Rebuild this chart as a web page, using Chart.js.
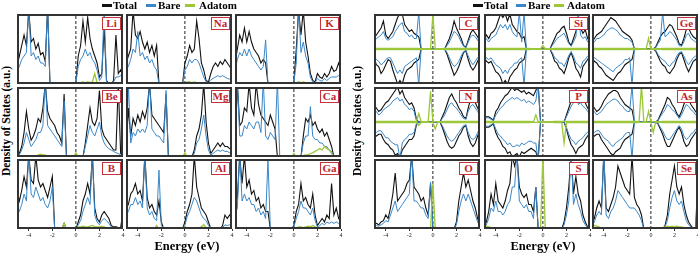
<!DOCTYPE html>
<html lang="en">
<head>
<meta charset="UTF-8">
<title>Density of States</title>
<script src="https://cdn.jsdelivr.net/npm/chart.js"></script>
<style>
    body { margin: 0; background: #fff; }
    #fig { position: relative; width: 698px; height: 253px; overflow: hidden; font-family: 'Liberation Serif', 'Times New Roman', serif; }
    canvas { position: absolute; }
    .frame { position: absolute; border: 2px solid #333; box-sizing: border-box; pointer-events: none; }
    .tag { position: absolute; width: 19px; height: 13px; box-sizing: border-box; border: 1.5px solid #c8323c; background: #fff;
           color: #c1272d; font-weight: bold; font-size: 11px; line-height: 10px; text-align: center; }
    .ylab { position: absolute; width: 170px; text-align: center; transform: rotate(-90deg); font-weight: bold; font-size: 11.5px; line-height: 14px; white-space: nowrap; }
    .xlab { position: absolute; width: 120px; text-align: center; font-weight: bold; font-size: 12.5px; line-height: 14px; }
    .leg { position: absolute; top: 0; font-weight: bold; font-size: 11px; line-height: 11px; white-space: nowrap; }
    .sw { position: absolute; top: 4px; height: 3px; }
</style>
</head>
<body>
<div id="fig"></div>
<script>
// energy grid (eV)
const energy = [-5.0,-4.8,-4.6,-4.4,-4.2, -4.0,-3.8,-3.6,-3.4,-3.2, -3.0,-2.8,-2.6,-2.4,-2.2, -2.0,-1.8,-1.6,-1.4,-1.2,
                -1.0,-0.8,-0.6,-0.4,-0.2, 0.0,0.2,0.4,0.6,0.8, 1.0,1.2,1.4,1.6,1.8, 2.0,2.2,2.4,2.6,2.8, 3.0,3.2,3.4,3.6,3.8, 4.0];
const xTicks = [-4, -2, 0, 2, 4];

// ---- left group (alkali / alkaline earth / group III) ----
const liTotal  = [2.6,4,5.5,7,5.5, 10.5,6,6.5,5,5.8, 4.2,4.5,3.2,11,0, 0,0,0,0,0, 0,0,0,0,0, 0.3,4,5.5,9,6, 9.5,6.5,5,4,3, 1,1.5,8,0.5,0, 0,0.5,7,1.5,2, 1.2];
const liBare   = [1.8,2.5,3.5,4,4.5, 11,4,4.5,3.5,4, 3,3,2.5,11,0, 0,0,0,0,0, 0,0,0,0,0, 0.2,2.5,3.5,4,5, 4,4.5,3.5,3,2, 0.5,1,11,0.3,0, 0,0.3,1,1,1.2, 0.8];
const liAdatom = [0,0,0,0,0, 0,0,0,0,0, 0,0,0,0,0, 0,0,0,0,0, 0,0,0,0,0, 0,0.2,0.2,0.3,0.2, 0.3,0.2,0.3,1.5,0.2, 0.1,0,0,0,0, 0,0,0.1,0.1,0.1, 0];

const naTotal  = [3,4,5,10.5,7, 6.5,7.5,6,5,6, 4.5,5.5,4,5.5,0, 0,0,0,0,0, 0,0,0,0,0, 3,4,5.5,4.5,5, 9,6.5,3,2,0.5, 0.3,1.5,2.5,3,2.5, 3.2,2.8,3.5,3,2.5, 2];
const naBare   = [2,2.5,3.5,5,4.5, 7.5,4,4.5,3.5,4, 3,3.5,2.5,2,0, 0,0,0,0,0, 0,0,0,0,0, 2,2.5,3.5,3,3.5, 3.5,3,2,1,0.3, 0.2,0.6,0.8,1,1.2, 1,1.2,1,0.8,0.7, 0.6];
const naAdatom = [0,0,0,0,0, 0,0,0,0,0, 0,0,0,0,0, 0,0,0,0,0, 0,0,0,0,0, 0.2,0.3,0.3,0.2,0.3, 0.2,0.2,0.1,0.1,0, 0,0,0,0,0, 0,0,0,0,0, 0];

const kTotal   = [3,5,7,6,8, 6,7.5,6,5,4.5, 4,3,3.5,3,0, 0,0,0,0,0, 0,0,0,0,0, 0.3,5,10.5,7,10.5, 6,4,1.5,0.5,0.3, 1.5,1,0.8,1.5,1, 1.5,2.5,1.8,2,3, 2];
const kBare    = [2,3.5,4.5,4,5, 4,5,4,3.5,3, 2.5,2,2.5,6.3,0, 0,0,0,0,0, 0,0,0,0,0, 0.2,3,11,4.5,6, 4,3,1,0.3,0.2, 0.8,0.5,0.4,0.8,0.5, 0.8,1,1,1,1.2, 1];
const kAdatom  = [0,0,0,0,0, 0,0,0,0,0, 0,0,0,0,0, 0,0,0,0,0, 0,0,0,0,0, 0.1,0.2,0.3,0.2,0.3, 0.2,0.1,0.1,0,0, 0,0,0,0,0, 0,0,0,0,0, 0];

const beTotal  = [0.3,0.5,1.5,3.5,6.5, 4,2.4,3,4,5.5, 5,7,10.5,6.5,5.5, 5,4.5,3.5,3,2, 9,0,0,0,0, 0,0,0,0,2, 4.5,7,5,4.5,5.5, 9.5,4,3,2.5,2, 1.5,1,1,10.5,0.5, 0.3];
const beBare   = [0.2,0.3,1,2,3.5, 2.5,1.5,2,2.5,3.5, 3.5,4.5,11,4.5,4, 3.5,3,2.5,2,1.5, 8,0,0,0,0, 0,0,0,0,1.5, 3,4.5,3.5,3,4, 5,3,2,1.5,1.2, 1,0.8,0.6,0.5,0.3, 0.2];
const beAdatom = [0,0,0,0,0, 0,0,0,0,0.3, 0.4,0.3,0.3,0,0, 0,0,0,0,0, 0,0,0,0,0, 0.6,0,0,0,0.1, 0.2,0.2,0.1,0.1,0.1, 0.1,0,0,0,0, 0,0,0,0,0, 0];

const mgTotal  = [0.5,7,3,5.5,4.5, 6,5,6.5,5.5,7, 10.5,6,5.5,5,4.5, 4,3.5,9,0,0, 0,0,0,0,0, 0.3,0,0,0,1, 3,4,6,10.5,5, 2,0.5,1,1.5,2, 1.5,2,1.5,1.5,1.2, 1];
const mgBare   = [0.3,10.5,2,3.5,3, 4,3.5,4,3.5,4.5, 11,4,3.5,3,3, 2.5,2,9.5,0,0, 0,0,0,0,0, 0.2,0,0,0,0.5, 2,2.5,4,6,3, 1,0.3,0.5,0.8,1, 0.8,1,0.8,0.8,0.6, 0.5];
const mgAdatom = [0,0,0,0,0, 0,0,0,0,0, 0,0,0,0,0, 0,0,0,0,0, 0,0,0,0,0, 0.6,0,0,0,0, 0.1,0.1,0.1,0.1,0.1, 0,0,0,0,0, 0,0,0,0,0, 0];

const caTotal  = [0.5,10.5,4.5,5,7, 6.5,10.5,7,6,10.5, 7.5,6,5.5,5,4.5, 6,5,4,0,0, 0,0,0,0,0, 0,0,0,0,3, 5.5,5,6,4.5,5, 4,3.5,4,3,3.5, 2.5,1.5,0,0,0, 0];
const caBare   = [0.3,11,3,3,4.5, 4,5,4.5,4,5, 5,3.5,11,3,2.5, 3.5,3,2.5,11,0, 0,0,0,0,0, 0,0,0,0,2, 3,3,7.2,3,2.5, 2.5,2,2,1.5,1.5, 1,0.8,0,0,0, 0];
const caAdatom = [0,0,0,0,0, 0,0,0,0,0, 0,0,0,0,0, 0,0,0,0,0, 0,0,0,0,0, 0.5,0,0,0,0.2, 0.3,0.3,0.5,0.6,0.8, 1,1.2,1,1.5,1.2, 1,0.5,0,0,0, 0];

const bTotal   = [5.5,4,5.5,7.5,6, 10.5,7,6.5,10.5,7, 6,6.5,5.5,4.5,6, 7.5,0,0,0,0, 0.8,0,0,0,0, 0,1,2,4,5, 6.5,5,10.5,3,1.5, 1,2,2.5,2,1.5, 0.5,0.3,0.3,0.2,0.2, 2.5];
const bBare    = [3.5,2.5,3.5,5,4, 11,5,4.5,6,5, 4,4.5,3.5,3,4, 6,0,0,0,0, 0.3,0,0,0,0, 0,0.6,1.2,2.5,3.5, 4.5,3.5,11,2,1, 0.6,1.2,1.5,1.2,0.8, 0.3,0.2,0.2,0.1,0.1, 0.3];
const bAdatom  = [0,0,0,0,0, 0,0,0,0,0, 0,0,0,0,0, 0,0,0,0,0, 0.8,0,0,0,0, 0,0.3,0.3,0.4,0.3, 0.3,0.4,0.5,0.3,0.3, 0.3,0.4,0.3,0.2,0.1, 0,0,0,0,0, 0];

const alTotal  = [3,3.5,5,5.5,6.5, 5,5.5,4,10.5,4.5, 3,3.5,2.5,2,4, 1,0,0,0,0, 0,0,0,0,0, 1,2.5,3.5,5,10.5, 6,4.5,3,2.5,2, 1,0,0,0,0, 0,0.5,2,1.5,2, 1.5];
const alBare   = [2,2.5,3.5,3.5,4.5, 3.5,4,3,11,3, 2,2.5,1.5,1.2,8.4, 0.5,0,0,0,0, 0,0,0,0,0, 0.5,1.8,2.5,3.5,4.5, 4,3,2,1.5,1.2, 0.5,0,0,0,0, 0,0.2,0.6,0.5,0.6, 0.5];
const alAdatom = [0,0,0,0,0, 0,0,0,0,0, 0,0,0,0.5,0, 0,0,0,0,0, 0,0,0,0,0, 0.3,0.1,0.1,0.2,0.2, 0.2,0.2,0.3,0.6,0.2, 0,0,0,0,0, 0,0,0,0,0, 0];

const gaTotal  = [3,4.5,10.5,6.5,10.5, 6,7,5,5.5,4, 4.5,3,3.5,2.5,2.5, 0,0,0,0,0, 0,0,0,0,0, 0.5,2.5,3.5,6.5,4, 4.5,3.5,3,5,2, 0.5,1,1.5,1,2, 1.5,6.5,2,3,1.5, 2];
const gaBare   = [2,3,11,4,5, 4,4.5,3.5,3.5,2.5, 3,2,2.5,1.5,10, 0,0,0,0,0, 0,0,0,0,0, 0.3,1.5,2.5,4,3, 3,2.5,2,3,1.2, 0.3,0.5,0.8,0.6,1, 0.8,1,0.8,1,0.8, 0.8];
const gaAdatom = [0,0,0,0,0, 0,0,0,0,0, 0,0,0,0,0, 0,0,0,0,0, 0,0,0,0,0, 0.2,0.2,0.3,0.3,0.2, 0.3,0.4,0.3,0.5,0.3, 0.2,0,0,0,0, 0,0,0,0,0, 0];

// ---- right group (group IV / V spin resolved, group VI) ----
const cTotalUp   = [3,4,5,6,8, 4,3,4,5,7, 9,10,10,7,6, 5,5.5,4.5,4,3.5, 0,0,0,0,0, 0,0,0,0,0, 0,1.5,3,5,8, 6,4.5,3,1,0.5, 2.5,4.5,5.5,4.5,3.5, 2];
const cTotalDn   = [-2.5,-4.5,-5,-7,-6, -4.5,-3,-3.5,-6,-8, -10,-9,-10,-7.5,-6, -5.5,-5,-4,-3.5,-3, 0,0,0,0,0, 0,0,0,0,0, 0,-1.5,-3.5,-5.5,-7.5, -6.5,-5,-3,-1,-0.5, -3,-5,-6,-5,-3.5, -2];
const cBareUp    = [2,3,3.5,4,5, 3,2.5,3,3.5,5, 6,7,7.5,5,4.5, 3.5,4,3,3,10.5, 0,0,0,0,0, 0,0,0,0,0, 0,1,2,3.5,5, 4.5,3.5,2,0.8,0.4, 2,3.5,4,3.5,2.5, 1.5];
const cBareDn    = [-2,-3,-3.5,-4.5,-4, -3,-2.5,-2.5,-4,-5.5, -7,-6,-7,-5,-4.5, -4,-3.5,-3,-2.5,-10.5, 0,0,0,0,0, 0,0,0,0,0, 0,-1,-2.5,-4,-5, -4.5,-3.5,-2,-0.8,-0.4, -2,-3.5,-4.5,-3.5,-2.5, -1.5];
const cAdatomUp  = [0.2,0.2,0.2,0.2,0.2, 0.2,0.2,0.2,0.2,0.2, 0.2,0.2,0.2,0.2,0.2, 0.2,0.2,0.2,0.2,0.2, 0.1,0.1,0.1,0.1,0.1, 10,0.1,0.1,0.1,0.1, 0.2,0.2,0.2,0.2,0.2, 0.2,0.2,0.2,0.2,0.2, 0.2,0.2,0.2,0.2,0.2, 0.2];
const cAdatomDn  = [-0.2,-0.2,-0.2,-0.2,-0.2, -0.2,-0.2,-0.2,-0.2,-0.2, -0.2,-0.2,-0.2,-0.2,-0.2, -0.2,-0.2,-0.2,-0.2,-0.2, -0.1,-0.1,-0.1,-0.1,-0.1, -0.1,-0.1,-0.1,-0.1,-0.1, -0.2,-0.2,-0.2,-0.2,-0.2, -0.2,-0.2,-0.2,-0.2,-0.2, -0.2,-0.2,-0.2,-0.2,-0.2, -0.2];

const siTotalUp  = [2.5,4,3,4.5,5, 6,8,10,9,10, 8,10,7,6,5, 4.5,3,3.5,0,0, 0,0,0,0,0, 0,0,0,0,1.5, 3,4.5,5,6,6.5, 4.5,2,1,3,5, 7,6,4.5,5.5,3, 2];
const siTotalDn  = [-2,-3.5,-4,-3.5,-5, -6.5,-7,-8,-10,-9, -10,-8,-7,-6,-5.5, -4,-3.5,-3,0,0, 0,0,0,0,0, 0,0,0,0,-1.5, -3.5,-4,-5.5,-6,-7, -5,-2.5,-1,-3,-5.5, -6.5,-8,-5,-4,-3, -2];
const siBareUp   = [1.8,3,2,3,3.5, 4,5.5,7,6,7, 5.5,7,5,4,3.5, 10.5,2,10.5,0,0, 0,0,0,0,0, 0,0,0,0,1, 2,3,3.5,4,4.5, 3,1.5,0.8,2,3.5, 10.5,4,3,3.5,2, 1.5];
const siBareDn   = [-1.5,-2.5,-3,-2.5,-3.5, -4.5,-5,-5.5,-7,-6, -7,-5.5,-5,-4,-4, -3,-2.5,-10.5,0,0, 0,0,0,0,0, 0,0,0,0,-1, -2.5,-3,-4,-4,-5, -3.5,-1.8,-0.8,-2,-4, -4.5,-5.5,-3.5,-3,-2, -1.5];
const siAdatomUp = [0.2,0.2,0.2,0.2,0.2, 0.2,0.2,0.2,0.2,0.2, 0.2,0.2,0.2,0.2,0.2, 0.2,0.2,0.2,0.2,0.2, 0.1,0.1,0.1,0.1,0.1, 1,0.1,0.1,0.1,0.1, 0.2,0.2,0.2,0.2,0.2, 0.2,0.2,0.2,0.2,0.2, 0.2,0.2,0.2,0.2,0.2, 0.2];
const siAdatomDn = [-0.2,-0.2,-0.2,-0.2,-0.2, -0.2,-0.2,-0.2,-0.2,-0.2, -0.2,-0.2,-0.2,-0.2,-0.2, -0.2,-0.2,-0.2,-0.2,-0.2, -0.1,-0.1,-0.1,-0.1,-0.1, -0.1,-0.1,-0.1,-0.1,-0.1, -0.2,-0.2,-0.2,-0.2,-0.2, -0.2,-0.2,-0.2,-0.2,-0.2, -0.2,-0.2,-0.2,-0.2,-0.2, -0.2];

const geTotalUp  = [2,3,4,4.5,5, 6,7,8,9,8.5, 8,7,6,5,4.5, 4,3.5,2.5,0,0, 0,0,0,0,0, 0,0,0.5,2,3.5, 4.5,5,6,7,6.5, 5,3.5,1.5,1,3, 5.5,6,4.5,3.5,3, 2];
const geTotalDn  = [-2.5,-3.5,-4,-5,-5.5, -6.5,-7.5,-8,-8.5,-9, -8,-7,-6.5,-5.5,-4.5, -4,-3.5,-3,0,0, 0,0,0,0,0, 0,0,-0.5,-2,-3.5, -4.5,-5,-6.5,-7,-6, -5,-3,-1.5,-1,-3, -5,-6.5,-5,-3.5,-3, -2];
const geBareUp   = [1.5,2,3,3,3.5, 4,5,5.5,6,6, 5.5,5,4,3.5,3, 3,2.5,2,0,0, 0,0,0,0,0, 0,0,0.3,1.5,2.5, 10.5,3.5,4,5,4.5, 3.5,2.5,1,0.8,2, 4,4.5,3,2.5,2, 1.5];
const geBareDn   = [-1.8,-2.5,-3,-3.5,-4, -4.5,-5,-5.5,-6,-6.5, -5.5,-5,-4.5,-4,-3, -3,-2.5,-10.5,0,0, 0,0,0,0,0, 0,0,-0.3,-1.5,-2.5, -3,-3.5,-4.5,-5,-4, -3.5,-2,-1,-0.8,-2, -3.5,-4.5,-3.5,-2.5,-2, -1.5];
const geAdatomUp = [0.2,0.2,0.2,0.2,0.2, 0.2,0.2,0.2,0.2,0.2, 0.2,0.2,0.2,0.2,0.2, 0.2,0.2,0.2,0.2,0.2, 0.1,0.1,0.1,0.1,3, 0.1,0.1,0.1,0.1,0.1, 0.2,0.2,0.2,0.2,0.2, 0.2,0.2,0.2,0.2,0.2, 0.2,0.2,0.2,0.2,0.2, 0.2];
const geAdatomDn = [-0.2,-0.2,-0.2,-0.2,-0.2, -0.2,-0.2,-0.2,-0.2,-0.2, -0.2,-0.2,-0.2,-0.2,-0.2, -0.2,-0.2,-0.2,-0.2,-0.2, -0.1,-0.1,-0.1,-0.1,-0.1, -0.1,-0.1,-0.1,-0.1,-0.1, -0.2,-0.2,-0.2,-0.2,-0.2, -0.2,-0.2,-0.2,-0.2,-0.2, -0.2,-0.2,-0.2,-0.2,-0.2, -0.2];

const nTotalUp   = [5,4,3,3.5,4.5, 5.5,6,7,8,9, 10,8,9,7,6, 5,5.5,4,0.8,0, 0,0,0,0,0, 0,0,0,0,1.5, 3,5,7,8,6.5, 5.5,4,3,1.5,1, 4,6.5,7,5.5,4, 2.5];
const nTotalDn   = [-4.5,-4,-3.5,-3.5,-5, -6,-6.5,-7.5,-8,-9.5, -9,-10,-8,-7,-6, -5,-5,-4,-0.8,0, 0,0,0,0,0, 0,0,0,0,-1.5, -3.5,-5.5,-7,-7.5,-7, -5.5,-4,-3,-1.5,-1, -4,-6,-7,-6,-4, -2.5];
const nBareUp    = [3.5,3,2,2.5,3.5, 4,4.5,5,6,6.5, 7,6,6.5,5,4.5, 3.5,4,3,0.5,0, 0,0,0,0,0, 0,0,0,0,1, 2,3.5,5,5.5,4.5, 4,3,2,1,0.8, 3,4.5,5,4,3, 1.8];
const nBareDn    = [-3,-3,-2.5,-2.5,-3.5, -4.5,-4.5,-5.5,-6,-6.5, -6.5,-10.5,-6,-5,-4.5, -3.5,-3.5,-3,-0.5,0, 0,0,0,0,0, 0,0,0,0,-1, -2.5,-4,-5,-5.5,-5, -4,-3,-2,-1,-0.8, -3,-4.5,-5,-4.5,-3, -1.8];
const nAdatomUp  = [0.2,0.2,0.2,0.2,0.2, 0.2,0.2,0.2,0.2,0.2, 0.2,0.2,0.2,0.2,0.2, 0.2,0.2,0.2,0.2,2.4, 0.1,0.1,0.1,0.1,8.8, 0.1,0.1,0.1,0.1,0.1, 0.2,0.2,0.2,0.2,0.2, 0.2,0.2,0.2,0.2,0.2, 0.2,0.2,0.2,0.2,0.2, 0.2];
const nAdatomDn  = [-0.2,-0.2,-0.2,-0.2,-0.2, -0.2,-0.2,-0.2,-0.2,-0.2, -0.2,-0.2,-0.2,-0.2,-0.2, -0.2,-0.2,-0.2,-0.2,-1, -0.1,-0.1,-0.1,-0.1,-0.1, -0.1,-2,-0.1,-0.1,-0.1, -0.2,-0.2,-0.2,-0.2,-0.2, -0.2,-0.2,-0.2,-0.2,-0.2, -0.2,-0.2,-0.2,-0.2,-0.2, -0.2];

const pTotalUp   = [1,1.5,1.5,1,0.5, 3,4,5.5,6.5,7.5, 8,9,10,9,9.5, 9,8.5,9,8,8.5, 8,7.5,9,10.5,0, 0,0,0,0,0, 0,0,0,0,0, 2,4,6,8,8.5, 7,8,6,5.5,4, 3];
const pTotalDn   = [-1,-1.5,-1.5,-1,-0.5, -3,-4.5,-5.5,-7,-7.5, -9,-8.5,-10,-9.5,-9, -10,-8.5,-9,-8.5,-8, -7.5,-8,-8.5,-10.5,0, 0,0,0,0,0, 0,0,0,0,0, -2,-4.5,-6.5,-7.5,-9, -7.5,-7,-6.5,-5,-4, -3];
const pBareUp    = [0.8,1.2,1.2,0.8,0.4, 2,3,4,4.5,5.5, 6,6.5,7,6.5,7, 6.5,6,6.5,5.5,6, 5.5,5,6,11,0, 0,0,0,0,0, 0,0,0,0,0, 1.5,3,4.5,5.5,10.5, 5,5.5,4.5,4,3, 2];
const pBareDn    = [-0.8,-1.2,-1.2,-0.8,-0.4, -2,-3.5,-4,-5,-5.5, -6.5,-6,-7,-7,-6.5, -7,-6,-6.5,-6,-5.5, -5.5,-6,-6,-11,0, 0,0,0,0,0, 0,0,0,0,0, -1.5,-3.5,-5,-5.5,-6.5, -5.5,-5,-4.5,-3.5,-3, -2];
const pAdatomUp  = [0.2,0.2,0.2,0.2,0.2, 0.2,0.2,0.2,0.2,0.2, 0.2,0.2,0.2,0.2,0.2, 0.2,0.2,0.2,0.2,0.2, 0.1,0.1,2,0.1,0.1, 0.1,0.1,0.1,0.1,0.1, 0.2,0.2,0.2,0.2,0.2, 0.2,0.2,0.2,0.2,0.2, 0.2,0.2,0.2,0.2,0.2, 0.2];
const pAdatomDn  = [-0.2,-0.2,-0.2,-0.2,-0.2, -0.2,-0.2,-0.2,-0.2,-0.2, -0.2,-0.2,-0.2,-0.2,-0.2, -0.2,-0.2,-0.2,-0.2,-0.2, -0.1,-0.1,-0.1,-0.1,-0.1, -0.1,-0.1,-0.1,-0.1,-0.1, -0.2,-0.2,-0.2,-0.2,-6, -0.2,-0.2,-0.2,-0.2,-0.2, -0.2,-0.2,-0.2,-0.2,-0.2, -0.2];

const asTotalUp  = [5,4,3,3.5,4.5, 6,7,8,8.5,9, 9,8.5,7,6,5, 4.5,4,3.5,0,0, 0,0,0,0,0, 0,0,0,0.5,2, 3.5,5,7,6.5,5, 4,2.5,1.5,3,5, 7,6.5,5,4,3, 2];
const asTotalDn  = [-4.5,-4,-3.5,-3.5,-5, -6,-7,-8,-9,-9.5, -8.5,-8,-7.5,-6,-5, -4.5,-4,-3.5,0,0, 0,0,0,0,0, 0,0,0,-0.5,-2, -3.5,-5.5,-7,-7,-5.5, -4,-2.5,-1.5,-3,-5.5, -7,-6.5,-5,-4,-3, -2];
const asBareUp   = [3.5,3,2,2.5,3, 4,5,5.5,6,6.5, 6.5,6,5,4.5,3.5, 3,3,10.5,0,0, 0,0,0,0,0, 0,0,0,0.3,1.5, 2.5,3.5,5,4.5,3.5, 3,2,1,2,3.5, 5,4.5,3.5,3,2, 1.5];
const asBareDn   = [-3,-3,-2.5,-2.5,-3.5, -4.5,-5,-5.5,-6.5,-7, -6,-5.5,-5,-4.5,-3.5, -3,-3,-10.5,0,0, 0,0,0,0,0, 0,0,0,-0.3,-1.5, -2.5,-4,-5,-5,-4, -3,-2,-1,-2,-4, -5,-4.5,-3.5,-3,-2, -1.5];
const asAdatomUp = [0.2,0.2,0.2,0.2,0.2, 0.2,0.2,0.2,0.2,0.2, 0.2,0.2,0.2,0.2,0.2, 0.2,0.2,0.2,0.2,0.2, 0.1,10.5,0.1,0.1,3, 0.1,0.1,0.1,0.1,0.1, 0.2,0.2,0.2,0.2,0.2, 0.2,0.2,0.2,0.2,0.2, 0.2,0.2,0.2,0.2,0.2, 0.2];
const asAdatomDn = [-0.2,-0.2,-0.2,-0.2,-0.2, -0.2,-0.2,-0.2,-0.2,-0.2, -0.2,-0.2,-0.2,-0.2,-0.2, -0.2,-0.2,-0.2,-0.2,-0.2, -0.1,-0.1,-0.1,-0.1,-0.1, -0.1,-3,-0.1,-0.1,-0.1, -0.2,-0.2,-0.2,-0.2,-0.2, -0.2,-0.2,-0.2,-0.2,-0.2, -0.2,-0.2,-0.2,-0.2,-0.2, -0.2];

const oTotal   = [0.8,0.8,0.6,1,1.2, 2,1.5,3,5,8, 4,4.5,5,5.5,6.5, 7,10.5,6,5.5,5, 4,4.5,3,2,6.5, 0,0,0,0,0, 0,0,0,0,0, 1,4,6,8,6, 7,5.5,4,3,1.5, 0.5];
const oBare    = [0.5,0.5,0.4,0.6,0.8, 1.2,1,2,3,4, 2.5,3,3.5,4,4.5, 5,11,4,4,3.5, 3,3,2,1.5,6.7, 0,0,0,0,0, 0,0,0,0,0, 0.6,2.5,4,5,4, 5,4,3,2,1, 0.3];
const oAdatom  = [0.2,0.2,0.2,0.2,0.2, 0.1,0,0,0,0, 0,0,0,0,0, 0,0,0,0,0, 0,0,0,0,0, 6.5,0,0,0,0, 0,0,0,0,0, 0,0,0,0,0, 0,0,0,0,0, 0];

const sTotal   = [0.5,1,2.5,5,3.5, 6.5,4,3.5,3,4, 5.5,6.5,10.5,9,10.5, 6,5,4.5,5,3.5, 3.5,2.5,6,0,0, 0,0,0,0,0, 0,0,0,0,1, 3,6,10.5,5,7.5, 5,4,2,1,0.3, 0];
const sBare    = [0.3,0.6,1.5,3,2.5, 4,2.5,2.5,2,2.5, 3.5,4,6,6,11, 4,3.5,3,3.5,2.5, 2.5,1.5,6,0,0, 0,0,0,0,0, 0,0,0,0,0.6, 2,4,11,3.5,5, 3.5,2.5,1.2,0.6,0.2, 0];
const sAdatom  = [0.5,0.4,0.3,0.2,0.1, 0,0,0,0,0, 0,0,0,0,0, 0,0,0,0,0, 0,0,0,0,0, 10.5,0,0,0,0, 0,0,0,0,0, 0,0,0,0,0, 0,0,0.1,0.2,0.2, 0];

const seTotal  = [1,1.5,3,4,3, 10.5,3,2.5,3.5,4.5, 6,9,8,7,6, 5.5,5,10.5,4.5,3.5, 3,2,0,0,0, 0,0,0,0,0, 0,0.5,2,5,7, 9,6,5,6,3.5, 2,1,0.5,0,0, 8];
const seBare   = [0.6,1,2,2.5,2, 11,2,1.5,2.5,3, 4,5.5,5,4.5,4, 3.5,3,3,3,2.5, 2,1.2,0,0,0, 0,0,0,0,0, 0,0.3,1.2,3,4.5, 5.5,4,3.5,4,2.5, 1.2,0.6,0.3,0,0, 6];
const seAdatom = [0.5,0.5,0.4,0.3,0.1, 0,0,0,0,0, 0,0,0,0,0, 0,0,0,0,0, 0,0,0,0,0, 0,0,0,0,0, 0,0.3,0.4,0.3,0.4, 0.3,0.4,0.3,0.3,0.2, 0,0,0,0,0, 0];

// layout
const W = 106, H = 70;
const colsLeft = [17, 126, 235];
const colsRight = [374, 484, 592];
const rows = [14, 87, 159];

const TOTAL = '#111111', BARE = '#3a87c8', ADATOM = '#9cc73a';

const panels = [
    { name: 'Li', col: colsLeft[0], row: 0, total: [liTotal], bare: [liBare], adatom: [liAdatom] },
    { name: 'Na', col: colsLeft[1], row: 0, total: [naTotal], bare: [naBare], adatom: [naAdatom] },
    { name: 'K',  col: colsLeft[2], row: 0, total: [kTotal],  bare: [kBare],  adatom: [kAdatom] },
    { name: 'Be', col: colsLeft[0], row: 1, total: [beTotal], bare: [beBare], adatom: [beAdatom] },
    { name: 'Mg', col: colsLeft[1], row: 1, total: [mgTotal], bare: [mgBare], adatom: [mgAdatom] },
    { name: 'Ca', col: colsLeft[2], row: 1, total: [caTotal], bare: [caBare], adatom: [caAdatom] },
    { name: 'B',  col: colsLeft[0], row: 2, total: [bTotal],  bare: [bBare],  adatom: [bAdatom] },
    { name: 'Al', col: colsLeft[1], row: 2, total: [alTotal], bare: [alBare], adatom: [alAdatom] },
    { name: 'Ga', col: colsLeft[2], row: 2, total: [gaTotal], bare: [gaBare], adatom: [gaAdatom] },
    { name: 'C',  col: colsRight[0], row: 0, total: [cTotalUp, cTotalDn],  bare: [cBareUp, cBareDn],  adatom: [cAdatomUp, cAdatomDn] },
    { name: 'Si', col: colsRight[1], row: 0, total: [siTotalUp, siTotalDn], bare: [siBareUp, siBareDn], adatom: [siAdatomUp, siAdatomDn] },
    { name: 'Ge', col: colsRight[2], row: 0, total: [geTotalUp, geTotalDn], bare: [geBareUp, geBareDn], adatom: [geAdatomUp, geAdatomDn] },
    { name: 'N',  col: colsRight[0], row: 1, total: [nTotalUp, nTotalDn],  bare: [nBareUp, nBareDn],  adatom: [nAdatomUp, nAdatomDn] },
    { name: 'P',  col: colsRight[1], row: 1, total: [pTotalUp, pTotalDn],  bare: [pBareUp, pBareDn],  adatom: [pAdatomUp, pAdatomDn] },
    { name: 'As', col: colsRight[2], row: 1, total: [asTotalUp, asTotalDn], bare: [asBareUp, asBareDn], adatom: [asAdatomUp, asAdatomDn] },
    { name: 'O',  col: colsRight[0], row: 2, total: [oTotal],  bare: [oBare],  adatom: [oAdatom] },
    { name: 'S',  col: colsRight[1], row: 2, total: [sTotal],  bare: [sBare],  adatom: [sAdatom] },
    { name: 'Se', col: colsRight[2], row: 2, total: [seTotal], bare: [seBare], adatom: [seAdatom] }
];

const fig = document.getElementById('fig');

function addDiv(cls, css, text) {
    const d = document.createElement('div');
    d.className = cls;
    Object.assign(d.style, css);
    if (text) d.textContent = text;
    fig.appendChild(d);
    return d;
}

function line(arr, color, width) {
    return {
        data: arr.map((v, i) => ({ x: energy[i], y: v })),
        borderColor: color, borderWidth: width,
        pointRadius: 0, tension: 0, fill: false
    };
}

function drawPanel(p) {
    const bottom = p.row === 2;
    const spin = p.total.length === 2;
    const y0 = rows[p.row];
    const ch = bottom ? H + 11 : H;

    const cv = document.createElement('canvas');
    cv.width = W + 8; cv.height = ch;
    cv.style.left = (p.col - 4) + 'px';
    cv.style.top = y0 + 'px';
    cv.style.width = (W + 8) + 'px';
    cv.style.height = ch + 'px';
    fig.appendChild(cv);

    const yMin = spin ? -10 : 0, yMax = 10;
    // first dataset is drawn on top
    const datasets = [];
    p.adatom.forEach(a => datasets.push(line(a, ADATOM, 1.3)));
    p.bare.forEach(a => datasets.push(line(a, BARE, 1)));
    p.total.forEach(a => datasets.push(line(a, TOTAL, 1.1)));
    datasets.push({
        data: [{ x: 0, y: yMin }, { x: 0, y: yMax }],
        borderColor: '#222', borderWidth: 1, borderDash: [3, 2], pointRadius: 0, fill: false
    });

    new Chart(cv, {
        type: 'line',
        data: { datasets: datasets },
        options: {
            responsive: false, animation: false, events: [],
            layout: { padding: { left: 4, right: 4, top: 0, bottom: 0 } },
            plugins: { legend: { display: false }, tooltip: { enabled: false } },
            scales: {
                x: {
                    type: 'linear', min: -5, max: 4, display: bottom,
                    afterFit: s => { if (bottom) { s.height = 11; s.paddingLeft = 0; s.paddingRight = 0; } },
                    afterBuildTicks: s => { s.ticks = xTicks.map(v => ({ value: v })); },
                    ticks: { font: { size: 6, family: 'Liberation Serif' }, color: '#222', padding: 1, maxRotation: 0 },
                    grid: { display: true, drawOnChartArea: false, drawTicks: true, tickLength: 2, color: '#333' },
                    border: { display: false }
                },
                y: { min: yMin, max: yMax, display: false }
            }
        }
    });

    addDiv('frame', { left: p.col + 'px', top: y0 + 'px', width: W + 'px', height: H + 'px' });
    addDiv('tag', { left: (p.col + W - 21) + 'px', top: (y0 + 3) + 'px' }, p.name);
}

panels.forEach(drawPanel);

// axis titles
addDiv('ylab', { left: (6 - 85) + 'px', top: (121 - 7) + 'px' }, 'Density of States (a.u.)');
addDiv('ylab', { left: (357 - 85) + 'px', top: (121 - 7) + 'px' }, 'Density of States (a.u.)');
addDiv('xlab', { left: (187 - 60) + 'px', top: '239px' }, 'Energy (eV)');
addDiv('xlab', { left: (543 - 60) + 'px', top: '239px' }, 'Energy (eV)');

// legends
function legend(x0, gaps) {
    const items = [['Total', TOTAL], ['Bare', BARE], ['Adatom', ADATOM]];
    items.forEach(([label, color], k) => {
        addDiv('sw', { left: (x0 + gaps[k][0]) + 'px', width: '10px', background: color });
        addDiv('leg', { left: (x0 + gaps[k][1]) + 'px' }, label);
    });
}
legend(102, [[0, 11], [44, 56], [83, 97]]);
legend(473, [[0, 11], [43, 55], [81, 94]]);
</script>
</body>
</html>
